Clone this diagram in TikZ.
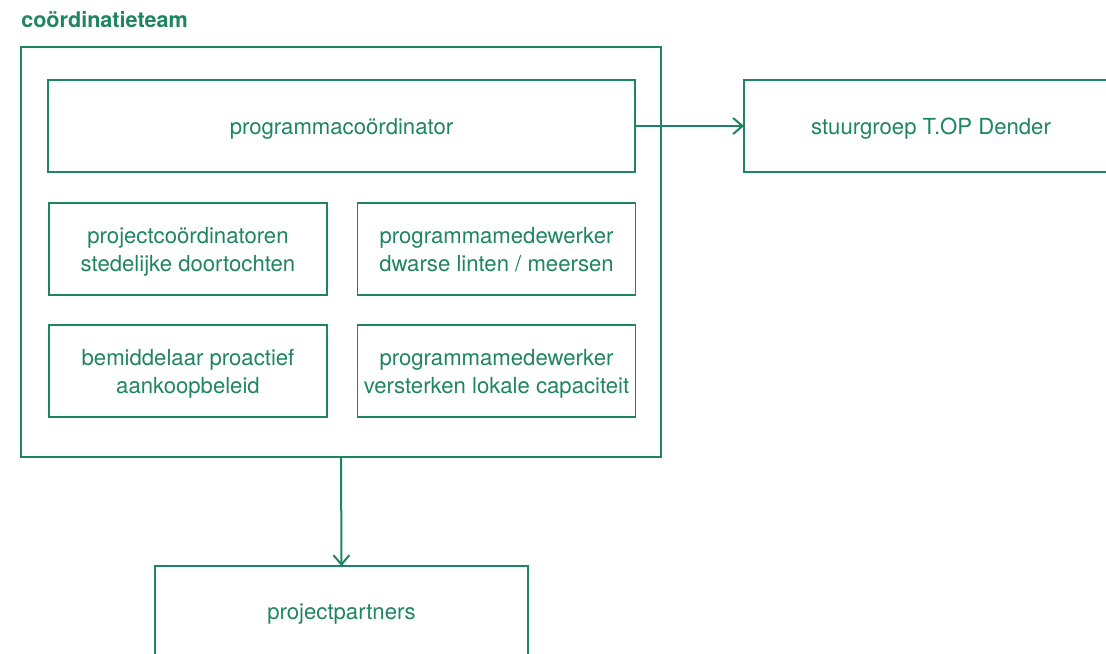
\documentclass[tikz,border=0pt]{standalone}
\usepackage{fontspec}
\setmainfont{TeX Gyre Heros}
\usepackage{tikz}
\usetikzlibrary{arrows.meta,positioning}
\definecolor{cteam}{HTML}{1E8560}
\tikzset{
  box/.style={draw=cteam, line width=0.8pt, outer sep=0pt, inner sep=2pt, align=center, text=cteam,
    font=\fontsize{16.6}{21}\selectfont, text depth=0pt, minimum height=69pt},
  bigbox/.style={box, minimum width=440.25pt},
  smallbox/.style={box, minimum width=208.5pt},
  sidebox/.style={box, minimum width=280.5pt},
  teambox/.style={draw=cteam, line width=1pt, outer sep=0pt, minimum width=480pt, minimum height=307.5pt},
  titel/.style={font=\fontsize{16.2}{20}\selectfont\bfseries, text=cteam, inner sep=0pt},
  pijl/.style={draw=cteam, line width=1.5pt, -{Straight Barb[length=7pt, width=12pt, line width=1.5pt]}},
}
\begin{document}
\begin{tikzpicture}[x=0.75pt,y=-0.75pt]
\clip (0,0) rectangle (1106,653);
% ---------------- coordinatieteam
\node[titel, anchor=base west] (title) at (21,27) {coördinatieteam};
\node[teambox] (team) at (341,252) {};
\node[bigbox] (coord) at (341.5,126) {programmacoördinator};
\node[smallbox] (proj) at (188,249) {projectcoördinatoren\\stedelijke doortochten};
\node[smallbox] (linten) at (496.5,249) {programmamedewerker\\dwarse linten / meersen};
\node[smallbox] (bemid) at (188,371) {bemiddelaar proactief\\aankoopbeleid};
\node[smallbox] (capac) at (496.5,371) {programmamedewerker\\versterken lokale capaciteit};
% ---------------- outside
\node[sidebox] (stuur) at (931,126) {stuurgroep T.OP Dender};
\node[sidebox, minimum width=279.75pt] (partners) at (341.5,612) {projectpartners};
\draw[pijl] (coord.east) -- (stuur.west);
\draw[pijl] (team.south) -- (partners.north);
\end{tikzpicture}
\end{document}
